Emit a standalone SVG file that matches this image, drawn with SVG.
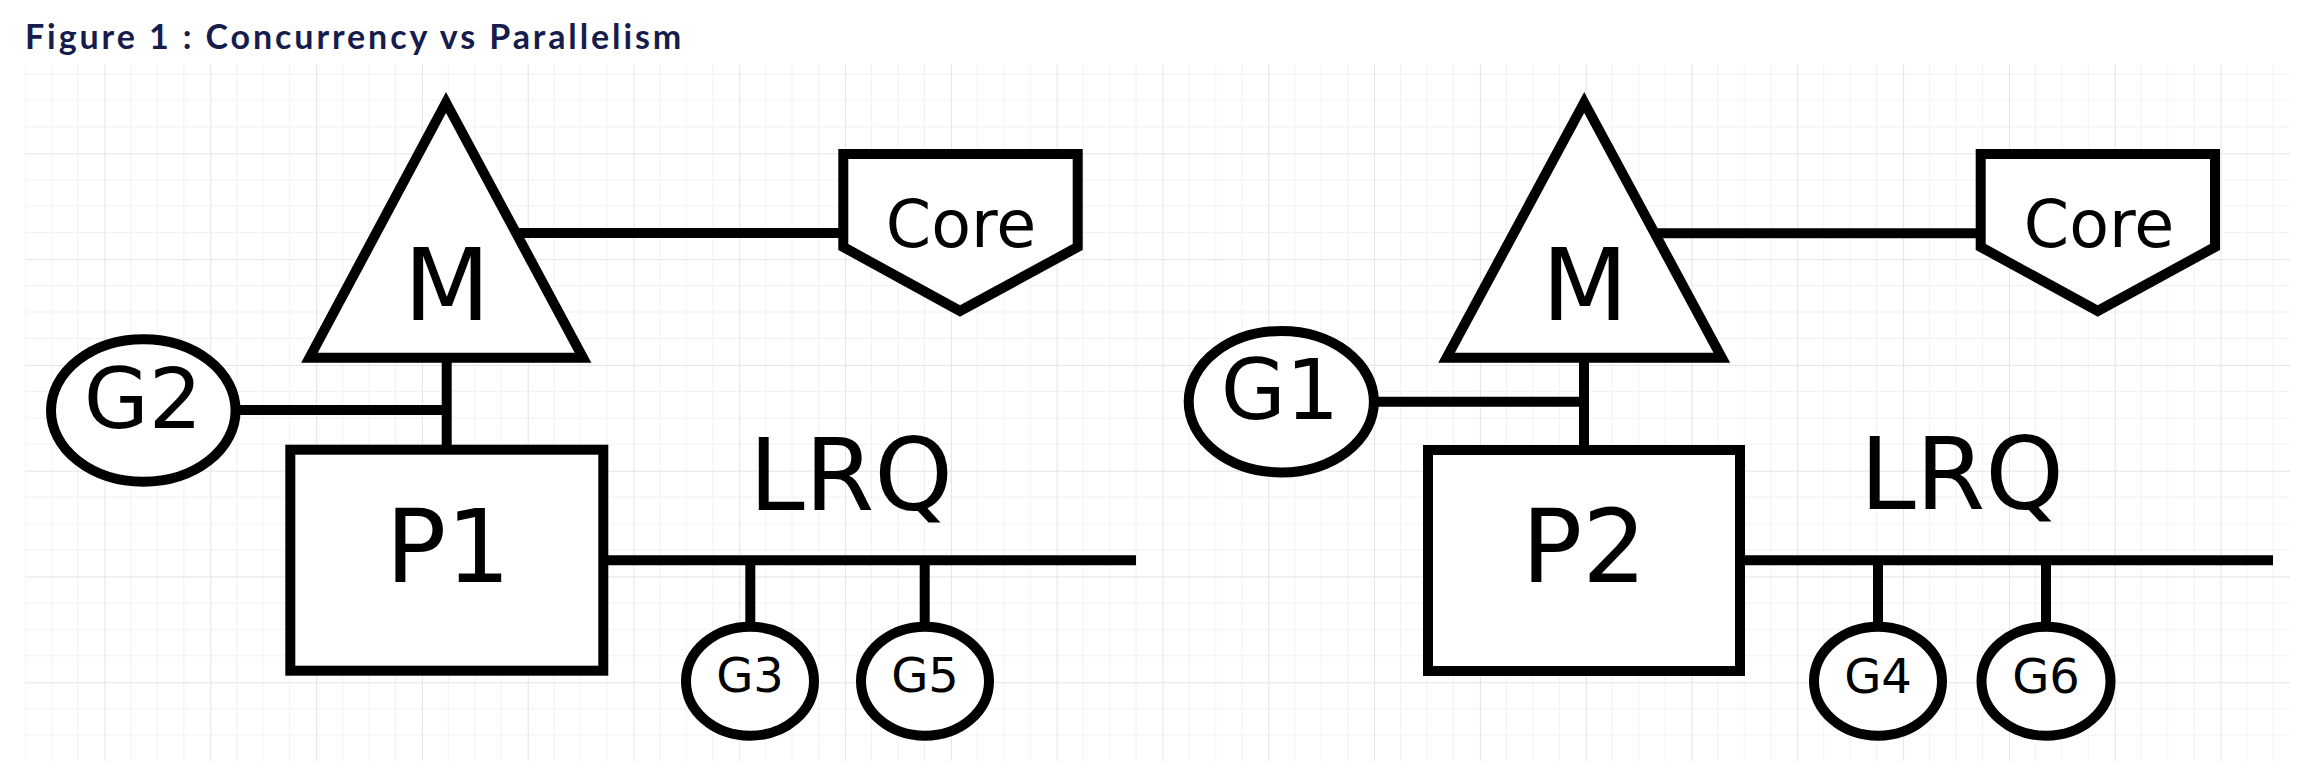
<svg xmlns="http://www.w3.org/2000/svg" width="2300" height="764" viewBox="0 0 2300 764">
<style>
.shape{fill:#ffffff;stroke:#000000;stroke-width:10;stroke-linejoin:miter}
.conn line{stroke:#000000;stroke-width:10}
.lbl{font-family:"DejaVu Sans",sans-serif;fill:#000000;text-anchor:middle}
.title{font-family:Lato,"Liberation Sans",sans-serif;font-weight:bold;font-size:34px;letter-spacing:2.9px;fill:#161c4c}
</style>
<defs>
<pattern id="grid" patternUnits="userSpaceOnUse" x="104.5" y="47.5" width="105.8" height="105.8">
<path d="M26.45 0V105.8M52.9 0V105.8M79.35 0V105.8M0 26.45H105.8M0 52.9H105.8M0 79.35H105.8" stroke="#f1f1f1" stroke-width="1" fill="none"/>
<path d="M0.5 0V105.8M0 0.5H105.8" stroke="#e3e3e3" stroke-width="1" fill="none"/>
</pattern>
</defs>
<rect width="2300" height="764" fill="#ffffff"/>
<rect x="25" y="64" width="2265" height="697" fill="url(#grid)"/>
<text class="title" x="25" y="49">Figure 1 : Concurrency vs Parallelism</text>
<g id="connectors" class="conn">
<line x1="516" y1="233" x2="843" y2="233"/>
<line x1="240" y1="410" x2="446.7" y2="410"/>
<line x1="446.7" y1="357" x2="446.7" y2="450"/>
<line x1="603" y1="560.3" x2="1136" y2="560.3"/>
<line x1="750.3" y1="560" x2="750.3" y2="628"/>
<line x1="924.7" y1="560" x2="924.7" y2="628"/>
<line x1="1654" y1="233.3" x2="1980.7" y2="233.3"/>
<line x1="1378" y1="401.7" x2="1584" y2="401.7"/>
<line x1="1584" y1="358" x2="1584" y2="450"/>
<line x1="1740" y1="560.3" x2="2273" y2="560.3"/>
<line x1="1878" y1="560" x2="1878" y2="628"/>
<line x1="2046" y1="560" x2="2046" y2="628"/>
</g>
<g id="M1"><polygon class="shape" points="446,102.5 583,357.7 309.5,357.7"/><text class="lbl" x="447" y="320" font-size="100">M</text></g>
<g id="Core1"><polygon class="shape" points="843.3,154 1077.7,154 1077.7,247 960,311 843.3,247"/><text class="lbl" x="961" y="247" font-size="65">Core</text></g>
<g id="G2"><ellipse class="shape" cx="143.3" cy="410.5" rx="92.3" ry="71.2"/><text class="lbl" x="143" y="428.3" font-size="84">G2</text></g>
<g id="P1"><rect class="shape" x="290.3" y="449.7" width="313" height="221"/><text class="lbl" x="448" y="582" font-size="101">P1</text></g>
<g id="LRQ1"><text class="lbl" x="851" y="510" font-size="100">LRQ</text></g>
<g id="G3"><ellipse class="shape" cx="750" cy="681.2" rx="64" ry="54.5"/><text class="lbl" x="750" y="692" font-size="48">G3</text></g>
<g id="G5"><ellipse class="shape" cx="925" cy="681.2" rx="64" ry="54.5"/><text class="lbl" x="925" y="692" font-size="48">G5</text></g>
<g id="M2"><polygon class="shape" points="1584.2,102.5 1721.8,357.7 1446.6,357.7"/><text class="lbl" x="1585" y="320" font-size="100">M</text></g>
<g id="Core2"><polygon class="shape" points="1980.7,154 2215,154 2215,247 2097.7,311 1980.7,247"/><text class="lbl" x="2099" y="247" font-size="65">Core</text></g>
<g id="G1"><ellipse class="shape" cx="1281.3" cy="401.7" rx="92.6" ry="70.7"/><text class="lbl" x="1280" y="419.3" font-size="84">G1</text></g>
<g id="P2"><rect class="shape" x="1428" y="450" width="312" height="221"/><text class="lbl" x="1584" y="582" font-size="101">P2</text></g>
<g id="LRQ2"><text class="lbl" x="1962" y="509" font-size="100">LRQ</text></g>
<g id="G4"><ellipse class="shape" cx="1878" cy="681.2" rx="64" ry="54.5"/><text class="lbl" x="1878" y="692.7" font-size="48">G4</text></g>
<g id="G6"><ellipse class="shape" cx="2046" cy="681.2" rx="64.5" ry="54.5"/><text class="lbl" x="2046" y="692.7" font-size="48">G6</text></g>
</svg>
